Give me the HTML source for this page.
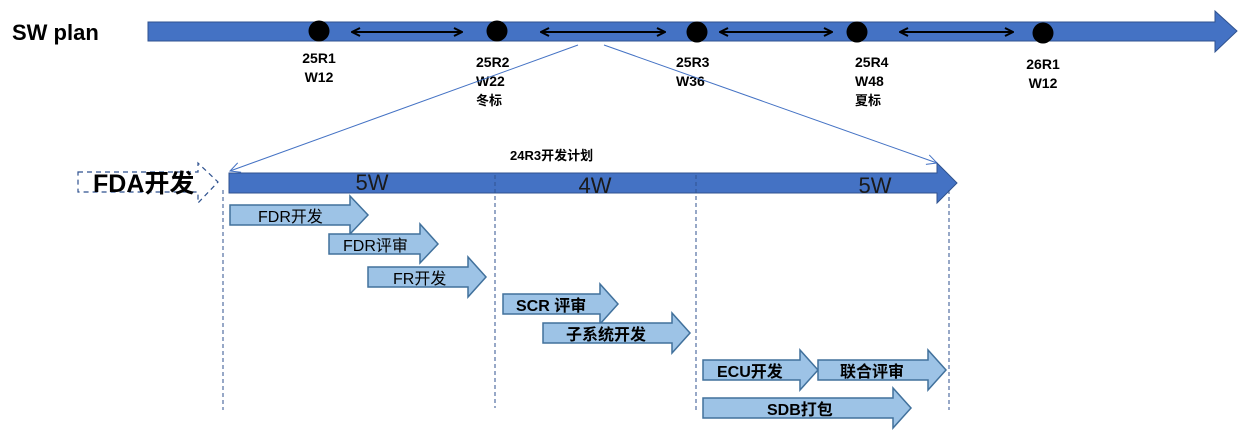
<!DOCTYPE html>
<html><head><meta charset="utf-8"><style>
html,body{margin:0;padding:0;background:#fff;}
svg{display:block;}
text{font-family:"Liberation Sans","Noto Sans CJK SC",sans-serif;}
</style></head><body>
<svg width="1242" height="445" viewBox="0 0 1242 445" xmlns="http://www.w3.org/2000/svg">
<defs>
<marker id="ah" markerWidth="10" markerHeight="10" refX="9" refY="5" orient="auto-start-reverse" markerUnits="userSpaceOnUse">
<path d="M1,1 L9,5 L1,9" fill="none" stroke="#000" stroke-width="2"/></marker>
<marker id="bh" markerWidth="12" markerHeight="12" refX="11" refY="6" orient="auto" markerUnits="userSpaceOnUse">
<path d="M1,1 L11,6 L1,11" fill="none" stroke="#4472C4" stroke-width="1"/></marker>
</defs>
<!-- title -->
<text x="12" y="40" font-size="22" font-weight="bold" fill="#000">SW plan</text>
<!-- top bar -->
<polygon points="148,22 1215,22 1215,11 1237,31 1215,52 1215,41 148,41" fill="#4472C4" stroke="#2F528F" stroke-width="1"/>
<g stroke="#000" stroke-width="2" fill="none">
<line x1="352" y1="32" x2="462" y2="32" marker-start="url(#ah)" marker-end="url(#ah)"/>
<line x1="541" y1="32" x2="665" y2="32" marker-start="url(#ah)" marker-end="url(#ah)"/>
<line x1="720" y1="32" x2="832" y2="32" marker-start="url(#ah)" marker-end="url(#ah)"/>
<line x1="900" y1="32" x2="1013" y2="32" marker-start="url(#ah)" marker-end="url(#ah)"/>
</g>
<g fill="#000">
<circle cx="319" cy="31" r="10.5"/><circle cx="497" cy="31" r="10.5"/><circle cx="697" cy="32" r="10.5"/><circle cx="857" cy="32" r="10.5"/><circle cx="1043" cy="33" r="10.5"/>
</g>
<g font-size="14" font-weight="bold" fill="#000">
<text x="319" y="63" text-anchor="middle">25R1</text><text x="319" y="82" text-anchor="middle">W12</text>
<text x="476" y="67">25R2</text><text x="476" y="86">W22</text><text x="476" y="105" font-size="13">冬标</text>
<text x="676" y="67">25R3</text><text x="676" y="86">W36</text>
<text x="855" y="67">25R4</text><text x="855" y="86">W48</text><text x="855" y="105" font-size="13">夏标</text>
<text x="1043" y="69" text-anchor="middle">26R1</text><text x="1043" y="88" text-anchor="middle">W12</text>
</g>
<!-- zoom lines -->
<line x1="578" y1="45" x2="230" y2="171" stroke="#4472C4" stroke-width="1" marker-end="url(#bh)"/>
<line x1="604" y1="45" x2="937" y2="163" stroke="#4472C4" stroke-width="1" marker-end="url(#bh)"/>
<text x="510" y="160" font-size="13" font-weight="bold" fill="#000">24R3开发计划</text>
<!-- FDA label -->
<polygon points="78,172 198,172 198,163 218,182 198,203 198,192 78,192" fill="none" stroke="#2F528F" stroke-width="1.2" stroke-dasharray="5,4"/>
<text x="93" y="192" font-size="25" font-weight="bold" fill="#000">FDA开发</text>
<!-- mid bar -->
<polygon points="229,173 937,173 937,163 957,183 937,203 937,193 229,193" fill="#4472C4" stroke="#2F528F" stroke-width="1"/>
<g font-size="22" fill="#1a1a1a">
<text x="372" y="190" text-anchor="middle">5W</text>
<text x="595" y="193" text-anchor="middle">4W</text>
<text x="875" y="193" text-anchor="middle">5W</text>
</g>
<!-- dashed verticals -->
<g stroke="#2F528F" stroke-width="1" stroke-dasharray="4,3">
<line x1="223" y1="190" x2="223" y2="410"/>
<line x1="495" y1="175" x2="495" y2="408"/>
<line x1="696" y1="175" x2="696" y2="410"/>
<line x1="949" y1="190" x2="949" y2="410"/>
</g>
<!-- small arrows -->
<g fill="#9DC3E6" stroke="#41719C" stroke-width="1.5">
<polygon points="230,205 350,205 350,196 368,215 350,234 350,225 230,225"/>
<polygon points="329,234 420,234 420,224 438,244 420,263 420,254 329,254"/>
<polygon points="368,267 468,267 468,257 486,277 468,297 468,287 368,287"/>
<polygon points="503,294 600,294 600,284 618,304 600,324 600,314 503,314"/>
<polygon points="543,323 672,323 672,313 690,333 672,353 672,343 543,343"/>
<polygon points="703,360 800,360 800,350 818,370 800,390 800,380 703,380"/>
<polygon points="818,360 928,360 928,350 946,370 928,390 928,380 818,380"/>
<polygon points="703,398 893,398 893,388 911,408 893,428 893,418 703,418"/>
</g>
<g font-size="16" fill="#000">
<text x="258" y="222">FDR开发</text>
<text x="343" y="251">FDR评审</text>
<text x="393" y="284">FR开发</text>
<g font-weight="bold">
<text x="516" y="311">SCR 评审</text>
<text x="566" y="340">子系统开发</text>
<text x="717" y="377">ECU开发</text>
<text x="840" y="377">联合评审</text>
<text x="767" y="415">SDB打包</text>
</g></g>
</svg>
</body></html>
